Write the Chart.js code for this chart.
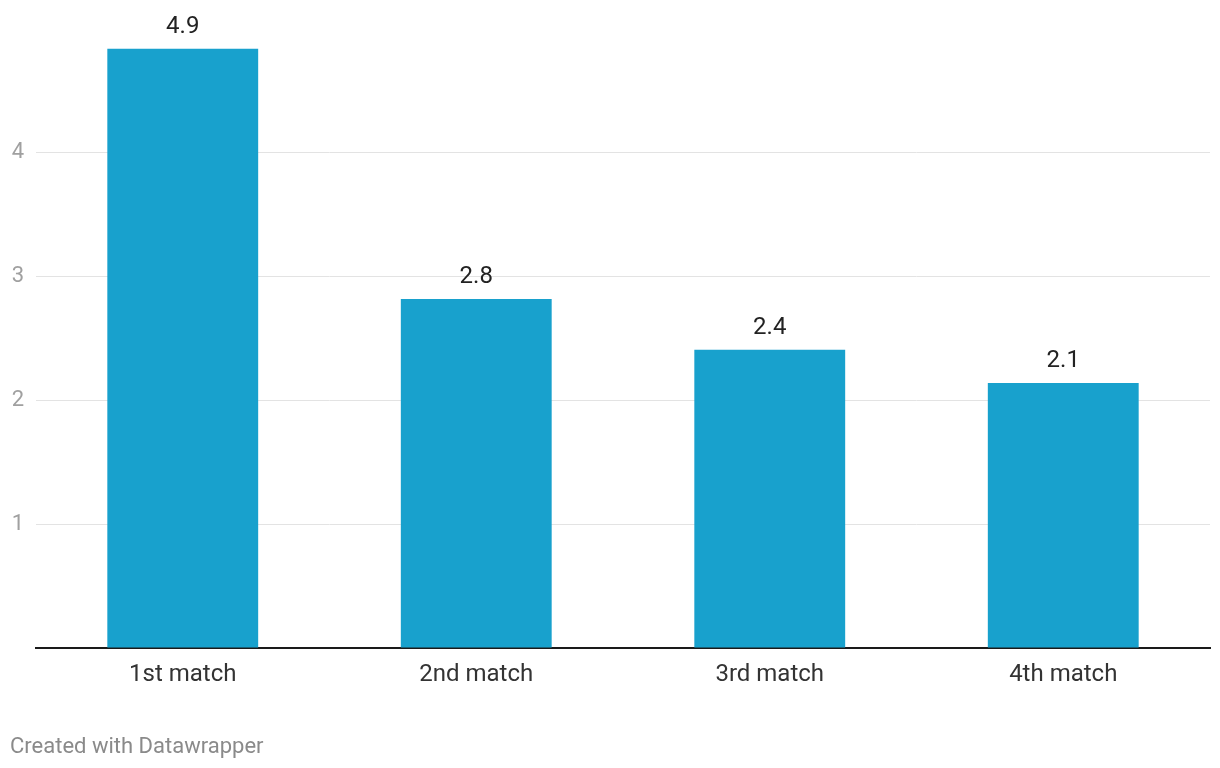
<!DOCTYPE html>
<html>
<head>
<meta charset="utf-8">
<script src="https://cdn.jsdelivr.net/npm/chart.js@4.4.1/dist/chart.umd.min.js"></script>
<style>
  body { margin: 0; background: #fff; }
  #wrap { position: relative; width: 1220px; height: 768px; }
  #credit {
    position: absolute; left: 10px; top: 733px;
    font: 22px Roboto, sans-serif; color: #8a8a8a;
  }
</style>
</head>
<body>
<div id="wrap">
  <canvas id="chart" width="1220" height="768"></canvas>
  <div id="credit">Created with Datawrapper</div>
</div>
<script>
// data
const categories = ['1st match', '2nd match', '3rd match', '4th match'];
const values = [4.84, 2.82, 2.41, 2.14];
const valueLabels = ['4.9', '2.8', '2.4', '2.1'];
const yTicks = [1, 2, 3, 4];

// value labels above each bar
const barLabels = {
    id: 'barLabels',
    afterDatasetsDraw(chart) {
        const ctx = chart.ctx;
        const meta = chart.getDatasetMeta(0);
        ctx.save();
        ctx.font = '24px Roboto, sans-serif';
        ctx.fillStyle = '#222';
        ctx.textAlign = 'center';
        ctx.textBaseline = 'middle';
        meta.data.forEach((bar, i) => {
            ctx.fillText(valueLabels[i], bar.x, bar.y - 22);
        });
        ctx.restore();
    }
};

new Chart(document.getElementById('chart').getContext('2d'), {
    type: 'bar',
    data: {
        labels: categories,
        datasets: [{
            data: values,
            backgroundColor: '#18a1cd',
            barPercentage: 0.514,
            categoryPercentage: 1
        }]
    },
    options: {
        responsive: false,
        animation: false,
        layout: { padding: { top: 29, right: 10, bottom: 68, left: 0 } },
        plugins: { legend: { display: false }, tooltip: { enabled: false } },
        scales: {
            x: {
                grid: { display: false, drawTicks: false },
                border: { display: true, color: '#1a1a1a', width: 2 },
                ticks: { color: '#333', font: { family: 'Roboto', size: 24 }, padding: 13 },
                afterFit: (scale) => { scale.height = 52; }
            },
            y: {
                min: 0,
                max: 5,
                border: { display: false },
                grid: {
                    drawTicks: false,
                    color: (c) => yTicks.includes(c.tick && c.tick.value) ? '#e3e3e3' : 'rgba(0,0,0,0)',
                    lineWidth: 1
                },
                ticks: {
                    stepSize: 1,
                    color: '#a0a0a0',
                    font: { family: 'Roboto', size: 22 },
                    padding: 12,
                    callback: (v) => yTicks.includes(v) ? String(v) : ''
                },
                afterFit: (scale) => { scale.width = 36; }
            }
        }
    },
    plugins: [barLabels]
});
</script>
</body>
</html>
